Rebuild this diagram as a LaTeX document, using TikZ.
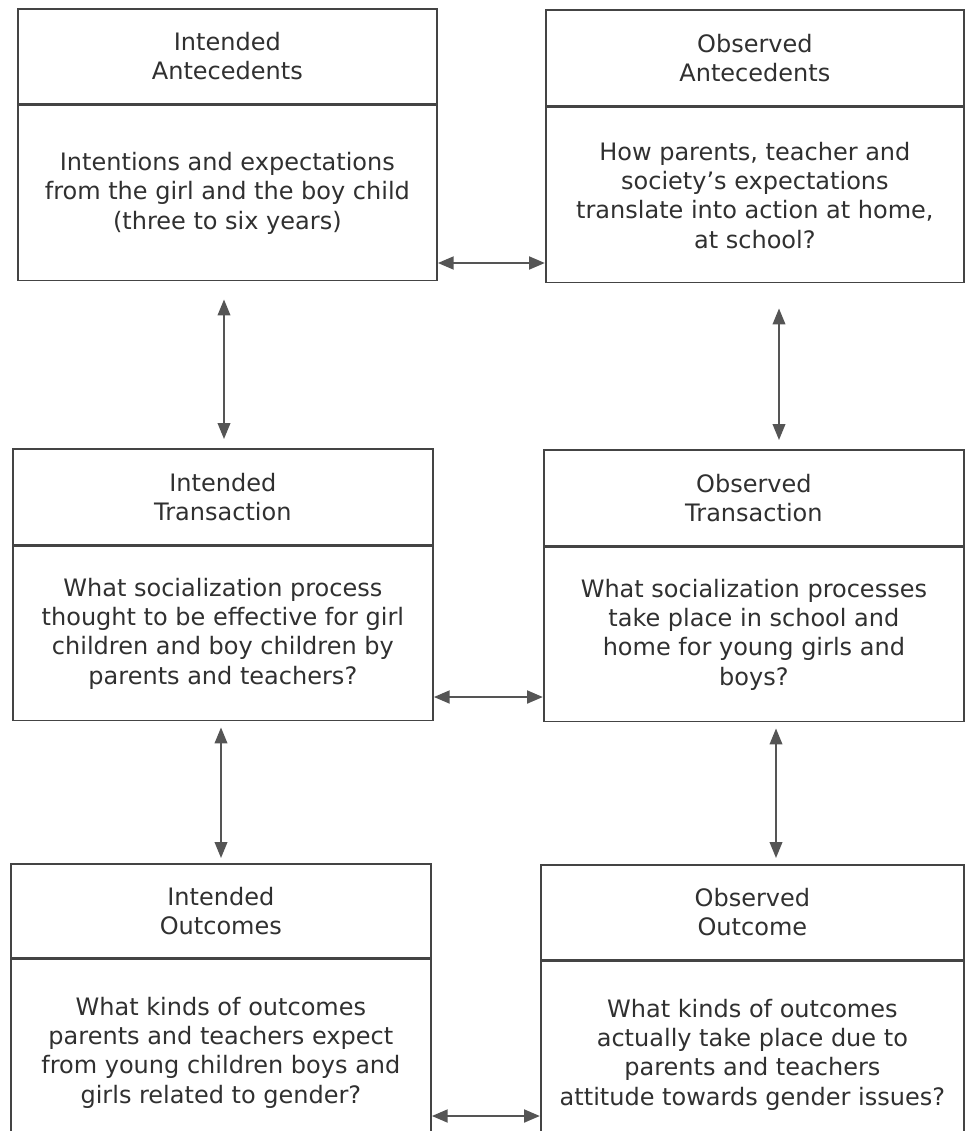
\documentclass[tikz,border=0pt]{standalone}
\usepackage{fontspec}
\setmainfont{DejaVu Sans}
\usetikzlibrary{arrows.meta}
\definecolor{linec}{HTML}{444444}
\definecolor{textc}{HTML}{303030}
\definecolor{arrc}{HTML}{555555}
\begin{document}
\begin{tikzpicture}[x=0.75pt,y=-0.75pt,
  cell/.style={draw=linec, line width=1.3pt, anchor=north west, align=center,
    text=textc, inner sep=0pt, font=\fontsize{18}{22}\selectfont},
  link/.style={draw=arrc, line width=2.2pt,
    {Triangle[length=12pt,width=9.5pt]}-{Triangle[length=12pt,width=9.5pt]}},
  vlink/.style={link, line width=1.3pt}]
\clip (0,0) rectangle (965,1131);
\fill[white] (0,0) rectangle (965,1131);
% top row
\node[cell, minimum width=419*0.75pt, minimum height=95*0.75pt] (iaH) at (17,8) {Intended\\Antecedents};
\node[cell, minimum width=419*0.75pt, minimum height=175*0.75pt] (iaB) at (iaH.south west)
  {Intentions and expectations\\from the girl and the boy child\\(three to six years)};
\node[cell, minimum width=418*0.75pt, minimum height=96*0.75pt] (oaH) at (545,9) {Observed\\Antecedents};
\node[cell, minimum width=418*0.75pt, minimum height=175*0.75pt] (oaB) at (oaH.south west)
  {How parents, teacher and\\society's expectations\\translate into action at home,\\at school?};
% middle row
\node[cell, minimum width=420*0.75pt, minimum height=96*0.75pt] (itH) at (12,448) {Intended\\Transaction};
\node[cell, minimum width=420*0.75pt, minimum height=174*0.75pt] (itB) at (itH.south west)
  {What socialization process\\thought to be effective for girl\\children and boy children by\\parents and teachers?};
\node[cell, minimum width=420*0.75pt, minimum height=96*0.75pt] (otH) at (543,449) {Observed\\Transaction};
\node[cell, minimum width=420*0.75pt, minimum height=174*0.75pt] (otB) at (otH.south west)
  {What socialization processes\\take place in school and\\home for young girls and\\boys?};
% bottom row
\node[cell, minimum width=420*0.75pt, minimum height=94*0.75pt] (ioH) at (10,863) {Intended\\Outcomes};
\node[cell, minimum width=420*0.75pt, minimum height=186*0.75pt] (ioB) at (ioH.south west)
  {What kinds of outcomes\\parents and teachers expect\\from young children boys and\\girls related to gender?};
\node[cell, minimum width=423*0.75pt, minimum height=95*0.75pt] (ooH) at (540,864) {Observed\\Outcome};
\node[cell, minimum width=423*0.75pt, minimum height=186*0.75pt] (ooB) at (ooH.south west)
  {What kinds of outcomes\\actually take place due to\\parents and teachers\\attitude towards gender issues?};
% horizontal connectors
\draw[link] (iaB.east |- 0,263) -- (oaB.west |- 0,263);
\draw[link] (itB.east |- 0,697) -- (otB.west |- 0,697);
\draw[link] (ioB.east |- 0,1116) -- (ooB.west |- 0,1116);
% vertical connectors
\draw[vlink, shorten <=18*0.75pt, shorten >=9*0.75pt] (iaB.south -| 224,0) -- (itH.north -| 224,0);
\draw[vlink, shorten <=25*0.75pt, shorten >=9*0.75pt] (oaB.south -| 779,0) -- (otH.north -| 779,0);
\draw[vlink, shorten <=6*0.75pt, shorten >=5*0.75pt] (itB.south -| 221,0) -- (ioH.north -| 221,0);
\draw[vlink, shorten <=6*0.75pt, shorten >=6*0.75pt] (otB.south -| 776,0) -- (ooH.north -| 776,0);
\end{tikzpicture}
\end{document}
